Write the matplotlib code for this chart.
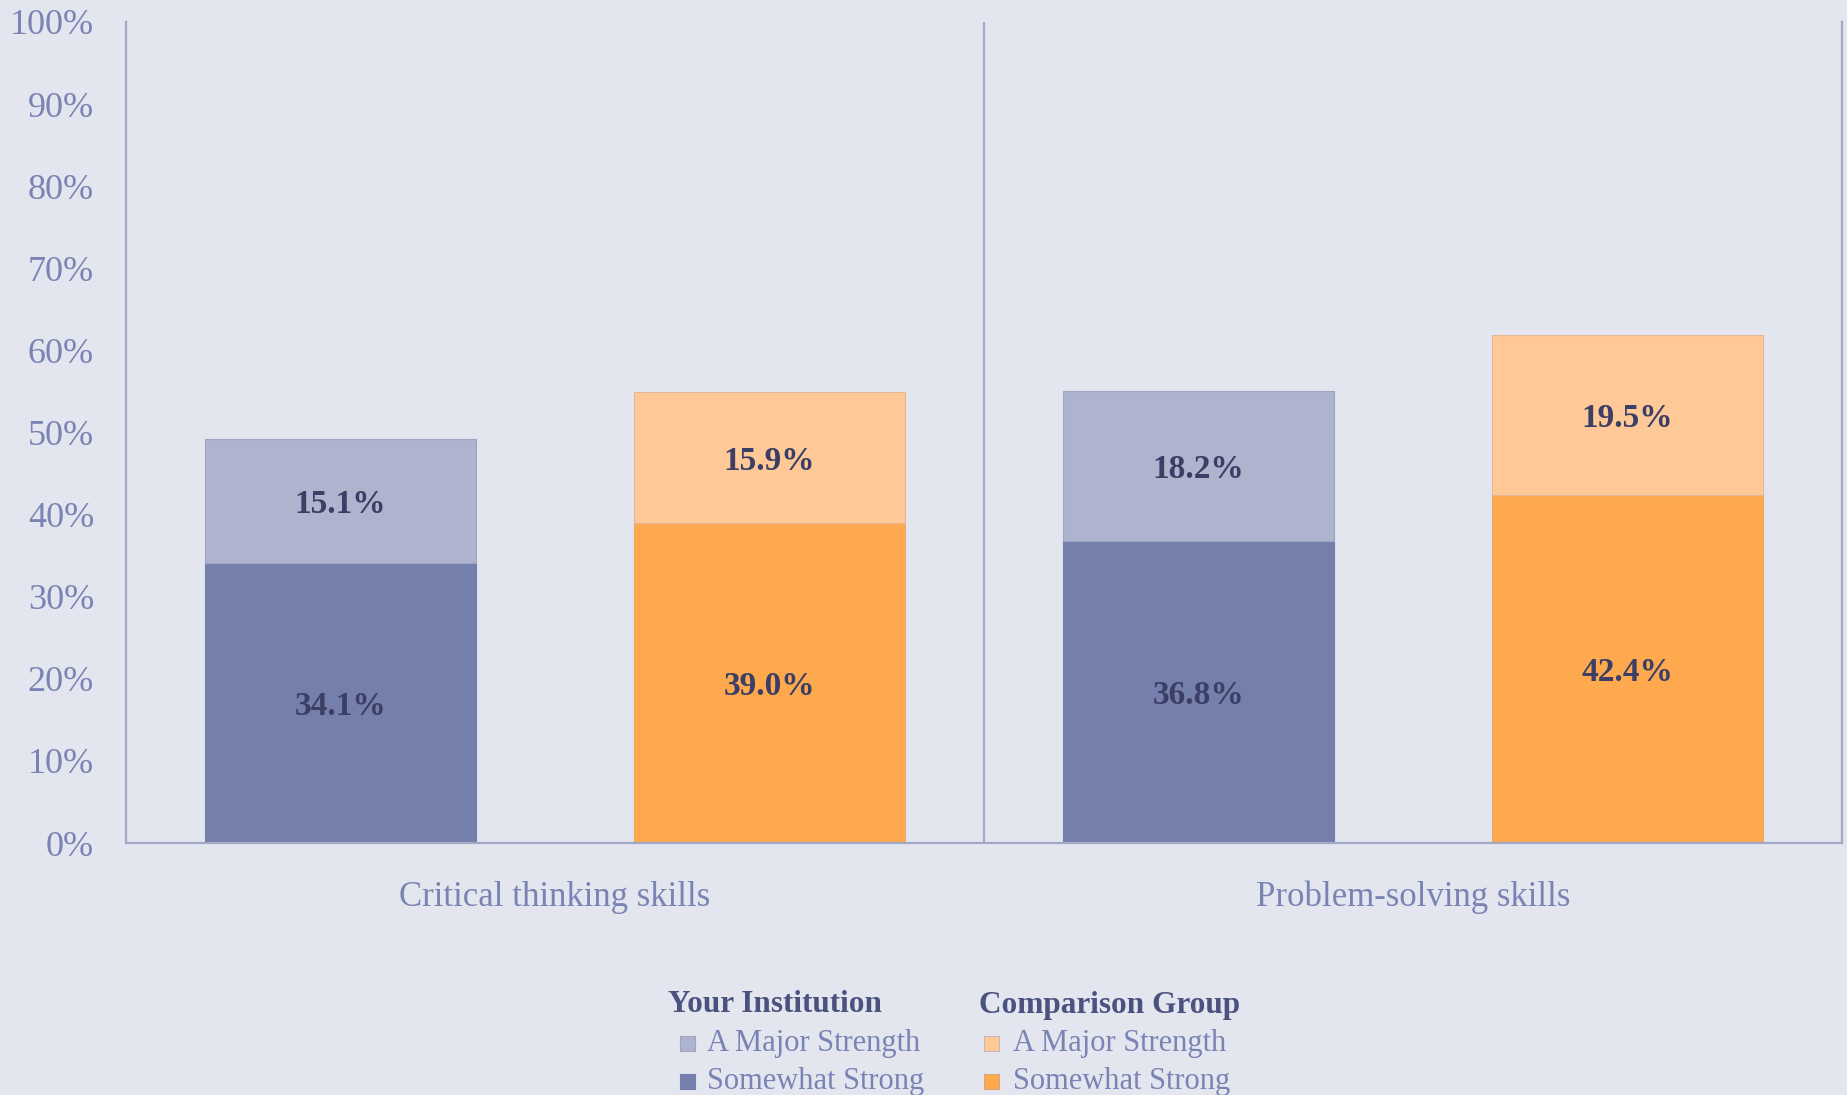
import matplotlib
matplotlib.use("Agg")
import matplotlib.pyplot as plt
from matplotlib.patches import Rectangle
import numpy as np

categories = ["Critical thinking skills", "Problem-solving skills"]
inst_somewhat = [34.1, 36.8]
inst_major = [15.1, 18.2]
comp_somewhat = [39.0, 42.4]
comp_major = [15.9, 19.5]
yticks = [0, 10, 20, 30, 40, 50, 60, 70, 80, 90, 100]
ytick_labels = [f"{v}%" for v in yticks]

BG = "#E3E6EE"
C_INST_DARK = "#7480AB"
C_INST_LIGHT = "#AEB3CE"
C_COMP_DARK = "#FFA94F"
C_COMP_LIGHT = "#FFC997"
AXIS_C = "#A3A8C6"
TICK_C = "#7A84B4"
LABEL_C = "#3B3F66"
TITLE_C = "#4B527F"

plt.rcParams['font.family'] = ['Liberation Serif', 'DejaVu Serif']

fig = plt.figure(figsize=(18.47, 10.95), dpi=100, facecolor=BG)
ax = fig.add_axes([126/1847, (1095-843)/1095, (1842-126)/1847, (843-22)/1095])
ax.set_facecolor(BG)

x = np.arange(len(categories))
w = 0.317
off = 0.25

ax.bar(x - off, inst_somewhat, w, color=C_INST_DARK, edgecolor=C_INST_DARK, linewidth=0.8)
ax.bar(x - off, inst_major, w, bottom=inst_somewhat, color=C_INST_LIGHT, edgecolor="#A0A5C3", linewidth=0.8)
ax.bar(x + off, comp_somewhat, w, color=C_COMP_DARK, edgecolor="#F0A862", linewidth=0.8)
ax.bar(x + off, comp_major, w, bottom=comp_somewhat, color=C_COMP_LIGHT, edgecolor="#E3B896", linewidth=0.8)

lab_kw = dict(ha="center", va="center_baseline", fontsize=24, fontweight="bold", color=LABEL_C)
for i in range(len(categories)):
    ax.text(x[i] - off, inst_somewhat[i] / 2, f"{inst_somewhat[i]:.1f}%", **lab_kw)
    ax.text(x[i] - off, inst_somewhat[i] + inst_major[i] / 2, f"{inst_major[i]:.1f}%", **lab_kw)
    ax.text(x[i] + off, comp_somewhat[i] / 2, f"{comp_somewhat[i]:.1f}%", **lab_kw)
    ax.text(x[i] + off, comp_somewhat[i] + comp_major[i] / 2, f"{comp_major[i]:.1f}%", **lab_kw)

ax.set_xlim(-0.5, len(categories) - 0.5)
ax.set_ylim(0, 100)
ax.set_yticks(yticks)
ax.set_yticklabels(ytick_labels)
ax.set_xticks(x)
ax.set_xticklabels(categories)
ax.tick_params(axis="y", length=0, pad=23, labelsize=26, labelcolor=TICK_C)
ax.tick_params(axis="x", length=0, pad=27, labelsize=25, labelcolor=TICK_C)

for s in ["left", "bottom", "right"]:
    ax.spines[s].set_color(AXIS_C)
    ax.spines[s].set_linewidth(1.6)
ax.spines["top"].set_visible(False)
for k in range(1, len(categories)):
    ax.axvline(k - 0.5, color=AXIS_C, linewidth=1.6)

# legend drawn manually in figure pixels
def fx(px): return px / 1847
def fy(py): return 1 - py / 1095

fig.text(fx(668), fy(1005), "Your Institution", fontsize=22.5, fontweight="bold", color=TITLE_C, va="center", ha="left")
fig.text(fx(979), fy(1005), "Comparison Group", fontsize=22.5, fontweight="bold", color=TITLE_C, va="center", ha="left")
entries = [
    (680, 1043, C_INST_LIGHT, "#A0A5C3", 707, "A Major Strength"),
    (680, 1081, C_INST_DARK, C_INST_DARK, 707, "Somewhat Strong"),
    (984, 1043, C_COMP_LIGHT, "#C9B7B0", 1013, "A Major Strength"),
    (984, 1081, C_COMP_DARK, "#D9A480", 1013, "Somewhat Strong"),
]
for mx, my, fc, ec, tx, txt in entries:
    fig.patches.append(Rectangle((fx(mx), fy(my + 8)), 15/1847, 15/1095, transform=fig.transFigure,
                                 facecolor=fc, edgecolor=ec, linewidth=0.8))
    fig.text(fx(tx), fy(my), txt, fontsize=22, color=TICK_C, va="center", ha="left")

fig.savefig("out.png", dpi=100, facecolor=BG)
